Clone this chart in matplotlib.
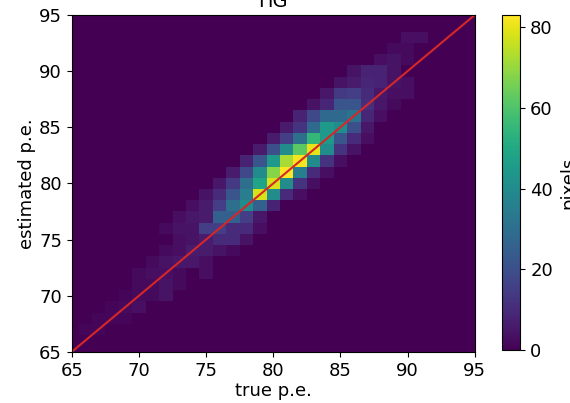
import numpy as np
import matplotlib
matplotlib.use("Agg")
import matplotlib.pyplot as plt

# 2D histogram, bins centred on integer p.e. values
# each row: estimated p.e., first true p.e. bin, counts from there on
row_y = [93, 92, 91, 90, 89, 88, 87, 86, 85, 84, 83, 82, 81, 80,
         79, 78, 77, 76, 75, 74, 73, 72, 71, 70, 69, 68, 67]
row_x0 = [90, 89, 88, 86, 85, 84, 83, 82, 81, 80, 79, 78, 77, 76,
          75, 74, 73, 72, 73, 72, 71, 70, 70, 69, 68, 67, 66]
row_counts = [
    [3, 3],
    [2, 2],
    [3, 4, 2],
    [4, 8, 8, 4],
    [4, 6, 9, 8, 4, 3],
    [5, 14, 15, 10, 5, 3, 3],
    [4, 9, 22, 22, 11, 5, 2],
    [8, 18, 28, 28, 32, 9, 3],
    [6, 12, 28, 45, 40, 20, 5],
    [6, 15, 30, 55, 45, 22, 10, 3],
    [6, 20, 40, 62, 80, 40, 12, 4],
    [8, 22, 45, 72, 82, 40, 12, 3],
    [6, 18, 40, 68, 83, 35, 10, 3],
    [5, 14, 30, 48, 78, 40, 12, 3],
    [4, 10, 22, 35, 78, 40, 10, 3],
    [3, 6, 15, 30, 40, 25, 8],
    [3, 5, 6, 25, 25, 15, 5],
    [2, 4, 4, 15, 15, 10, 10, 3],
    [3, 4, 6, 10, 10, 4],
    [2, 3, 6, 6, 4, 2],
    [2, 4, 5, 5, 3],
    [2, 3, 3, 2, 0, 3],
    [2, 2, 4, 2],
    [1, 2, 2, 4],
    [1, 2, 3],
    [1, 1, 1],
    [1, 1],
]

lo, hi = 65, 95
edges = np.arange(lo - 0.5, hi + 1.5)
n = hi - lo + 1
H = np.zeros((n, n))
for y, x0, vals in zip(row_y, row_x0, row_counts):
    for k, v in enumerate(vals):
        H[y - lo, x0 + k - lo] = v

fig = plt.figure(figsize=(5.7, 4.03), dpi=100)
ax = fig.add_axes([0.126, 0.127, 0.707, 0.836])
cax = fig.add_axes([0.881, 0.131, 0.032, 0.832])

mesh = ax.pcolormesh(edges, edges, H, cmap="viridis", vmin=0, vmax=83)
ax.plot([lo, hi], [lo, hi], color="#d62728", lw=1.5)
ax.set_xlim(lo, hi)
ax.set_ylim(lo, hi)
ax.set_xticks(range(65, 96, 5))
ax.set_yticks(range(65, 96, 5))
ax.tick_params(labelsize=13)
ax.set_xlabel("true p.e.", fontsize=13, labelpad=2)
ax.set_ylabel("estimated p.e.", fontsize=13, labelpad=2)
ax.set_title("HG", fontsize=14, pad=6)

cb = fig.colorbar(mesh, cax=cax)
cb.set_ticks([0, 20, 40, 60, 80])
cb.ax.tick_params(labelsize=13)
cb.set_label("pixels", fontsize=13, labelpad=5)

fig.savefig("out.png", dpi=100)
